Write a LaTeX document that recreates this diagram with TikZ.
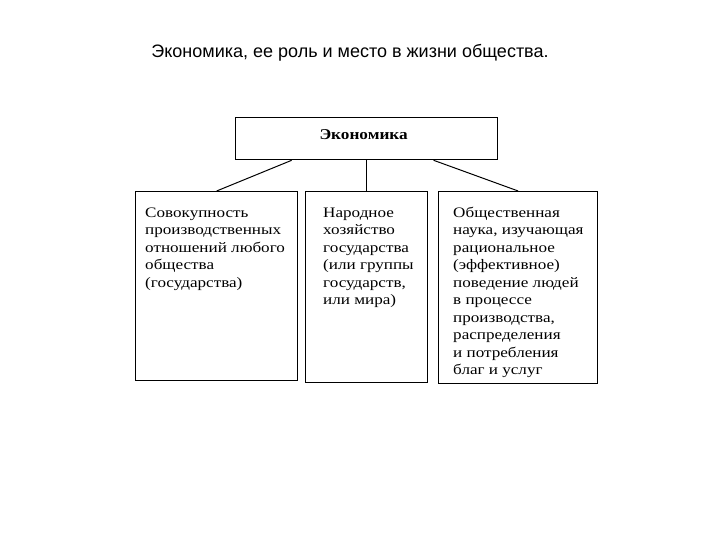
\documentclass[tikz,border=0pt]{standalone}
\usepackage{fontspec}
\setmainfont{Liberation Serif}
\newfontfamily\titlefont{Liberation Sans}
\newfontfamily\boxfont[FakeStretch=1.18]{Liberation Serif}
\newfontfamily\ecofont[FakeStretch=1.15]{Liberation Serif}
\newcommand{\firststrut}{\rule{0pt}{11pt}}
\begin{document}
\begin{tikzpicture}[x=1pt,y=-1pt,
  frame/.style={draw, line width=1.3pt, inner sep=0pt, anchor=north west},
  conn/.style={line width=1pt},
  boxtext/.style={anchor=north west, inner sep=0pt, align=left, font=\boxfont\fontsize{14.5}{17.5}\selectfont},
]
\useasboundingbox (0,0) rectangle (720,540);
\node[font=\titlefont\fontsize{18}{20}\selectfont, anchor=base] (title) at (350,58) {Экономика, ее роль и место в жизни общества.};
\node[frame, minimum width=262pt, minimum height=42pt] (eco) at (235,117) {};
\node[font=\ecofont\bfseries\fontsize{15}{17}\selectfont, anchor=base] (ecot) at ([xshift=-3pt,yshift=-1pt]eco.center) {Экономика};
\node[frame, minimum width=162pt, minimum height=189pt] (b1) at (135,191) {};
\node[frame, minimum width=122pt, minimum height=191pt] (b2) at (305,191) {};
\node[frame, minimum width=159pt, minimum height=192pt] (b3) at (438,191) {};
\node[boxtext] (t1) at (145,206) {\firststrut Совокупность\\производственных\\отношений любого\\общества\\(государства)};
\node[boxtext] (t2) at (323,206) {\firststrut Народное\\хозяйство\\государства\\(или группы\\государств,\\или мира)};
\node[boxtext] (t3) at (453,206) {\firststrut Общественная\\наука, изучающая\\рациональное\\(эффективное)\\поведение людей\\в процессе\\производства,\\распределения\\и потребления\\благ и услуг};
\draw[conn] ([xshift=-75pt]eco.south) -- (b1.north);
\draw[conn] (eco.south) -- (b2.north);
\draw[conn] ([xshift=67pt]eco.south) -- (b3.north);
\end{tikzpicture}
\end{document}
